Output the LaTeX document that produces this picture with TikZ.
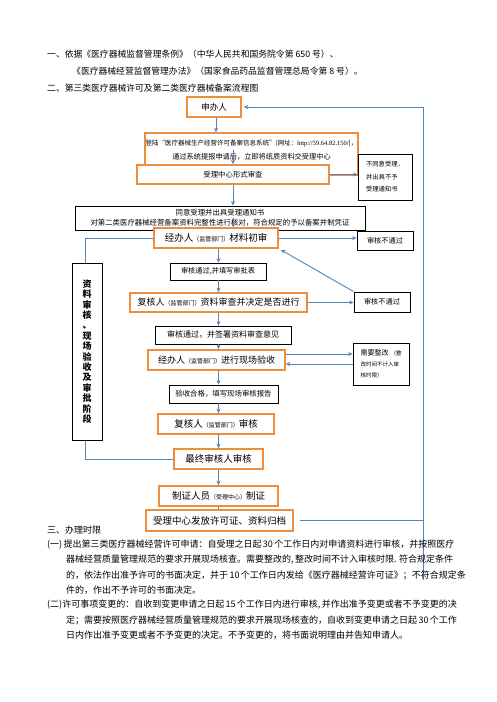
\documentclass[tikz,border=0pt]{standalone}
\usepackage{fontspec}
\setmainfont{Noto Sans CJK SC}
\newfontfamily\latinserif{Liberation Serif}
\usetikzlibrary{arrows.meta}
\XeTeXlinebreaklocale "zh"
\XeTeXlinebreakskip=0pt plus 1pt minus 0.3pt
\definecolor{boxorange}{RGB}{237,141,62}
\definecolor{flowblue}{RGB}{84,130,190}
\newcommand\smtxt[1]{{\fontsize{6}{7}\selectfont #1}}
\newcommand\fs[1]{\fontsize{#1}{#1}\selectfont}
\begin{document}
\begin{tikzpicture}[x=1pt,y=-1pt,
  obox/.style={draw=boxorange, line width=1.6pt, fill=white, inner sep=0pt},
  kbox/.style={draw=black, line width=0.8pt, fill=white, inner sep=0pt},
  flow/.style={draw=flowblue, line width=0.9pt, -{Stealth[length=4.5pt,width=4pt]}},
  plain/.style={draw=flowblue, line width=0.9pt},
  txt/.style={inner sep=0pt, anchor=west},
  body/.style={inner sep=0pt, anchor=west, font=\fs{9}},
]
\useasboundingbox[fill=white] (0,0) rectangle (496,702);

% header
\node[txt, font=\fs{8.8}] (h1) at (47,54) {一、依据《医疗器械监督管理条例》（中华人民共和国务院令第 650 号）、};
\node[txt, font=\fs{8.8}] (h2) at (72,71) {《医疗器械经营监督管理办法》（国家食品药品监督管理总局令第 8 号）。};
\node[txt, font=\fs{8.8}] (h3) at (47,88) {二、第三类医疗器械许可及第二类医疗器械备案流程图};

% boxes
\node[obox, minimum width=54pt, minimum height=20pt, font=\fs{8.5}] (shenban) at (214,107) {申办人};
\node[obox, minimum width=213pt, minimum height=42pt] (denglu) at (251.5,154) {};
\node[inner sep=0pt, align=center] (dengluText) at (251.5,150)
  {\fs{6.5}登陆“医疗器械生产经营许可备案信息系统”(网址：{\latinserif http://59.64.82.150/})，\\[2pt]
   \fs{7.2}通过系统提报申请后，立即将纸质资料交受理中心};
\node[obox, minimum width=192pt, minimum height=19pt, font=\fs{7.4}] (shouli) at (233,174.5) {受理中心形式审查};
\node[kbox, minimum width=54pt, minimum height=46pt, align=left, font=\fontsize{6.3}{12.5}\selectfont] (butongyi) at (385,177)
  {不同意受理，\\\makebox[31pt][s]{并出具不予}\\受理通知书};
\node[kbox, minimum width=290pt, minimum height=24pt, align=center, font=\fontsize{7.4}{10}\selectfont] (tongyi) at (220,218)
  {同意受理并出具受理通知书\\对第二类医疗器械经营备案资料完整性进行核对，符合规定的予以备案并制凭证};
\node[obox, minimum width=124pt, minimum height=20pt, font=\fs{9.5}] (jingban1) at (216,238) {经办人\smtxt{（监管部门）}材料初审};
\node[kbox, minimum width=56pt, minimum height=19pt, font=\fs{7.2}] (butong1) at (385,240.5) {审核不通过};
\node[kbox, minimum width=96pt, minimum height=17pt, font=\fs{7.2}] (shenpi) at (218,271.5) {审核通过,并填写审批表};
\node[obox, minimum width=177pt, minimum height=19pt, font=\fs{9}] (fuhe1) at (218.5,302.5) {复核人\smtxt{（监管部门）}资料审查并决定是否进行};
\node[kbox, minimum width=56pt, minimum height=20pt, font=\fs{7.2}] (butong2) at (382,302) {审核不通过};
\node[kbox, minimum width=136pt, minimum height=18pt, font=\fs{8}] (qianshu) at (223,335) {审核通过，并签署资料审查意见};
\node[obox, minimum width=137pt, minimum height=20pt, font=\fs{9}] (xianchang) at (216.5,360) {经办人\smtxt{（监管部门）}进行现场验收};
\node[kbox, minimum width=56pt, minimum height=42pt, align=left, font=\fontsize{5.5}{11}\selectfont] (zhenggai) at (381,364)
  {{\fs{7}\makebox[32pt][s]{需要整改}}\kern-2pt（整\\改时间不计入审\\核时限）};
\node[kbox, minimum width=109pt, minimum height=18pt, font=\fs{7.4}] (yanshou) at (223.5,394) {验收合格，填写现场审核报告};
\node[obox, minimum width=116pt, minimum height=20pt, font=\fs{9.5}] (fuhe2) at (216,424) {复核人\smtxt{（监管部门）}审核};
\node[obox, minimum width=89pt, minimum height=20pt, font=\fs{9.5}] (zuizhong) at (218.5,459) {最终审核人审核};
\node[obox, minimum width=119pt, minimum height=20pt, font=\fs{9.5}] (zhizheng) at (218.5,496) {制证人员\smtxt{（受理中心）}制证};
\node[obox, minimum width=147pt, minimum height=21pt, font=\fs{9.5}] (fafang) at (219.5,520.5) {受理中心发放许可证、资料归档};

% connectors
\coordinate (rtop) at (423,107);
\coordinate (rbot) at (423,580);
\coordinate (lx) at (85,300);
\draw[flow] (shenban.south -| 216,0) -- (denglu.north -| 216,0);
\draw[flow] (shouli.north |- dengluText.center) -- (shouli.north);
\draw[flow] (shouli.east) -- (shouli.east -| butongyi.west);
\draw[flow] (shouli.south) -- (shouli.south |- tongyi.north);
\draw[flow] (shouli.south |- tongyi.center) -- (shouli.south |- jingban1.north);
\draw[flow] (jingban1.east) -- (jingban1.east -| butong1.west);
\draw[flow] (jingban1.south -| zuizhong.north) -- (shenpi.north -| zuizhong.north);
\draw[flow] (shenpi.south -| zuizhong.north) -- (fuhe1.north -| zuizhong.north);
\draw[flow] (fuhe1.east) -- (fuhe1.east -| butong2.west);
\draw[flow] (butong2.north west) -- ([xshift=2pt,yshift=-1pt]jingban1.south east);
\draw[flow] (fuhe1.south -| zuizhong.north) -- (qianshu.north -| zuizhong.north);
\draw[flow] (qianshu.south -| zuizhong.north) -- (xianchang.north -| zuizhong.north);
\draw[flow] ([yshift=6pt]xianchang.east) -- ([yshift=6pt]xianchang.east -| zhenggai.west);
\draw[flow] ([yshift=-4pt]xianchang.east -| zhenggai.west) -- ([yshift=-4pt]xianchang.east);
\draw[flow] (xianchang.south -| zuizhong.north) -- (yanshou.north -| zuizhong.north);
\draw[flow] (yanshou.south -| zuizhong.north) -- (fuhe2.north -| zuizhong.north);
\draw[flow] (fuhe2.south -| zuizhong.north) -- (zuizhong.north);
\draw[flow] (zuizhong.south) -- (zhizheng.north);
\draw[plain] (zhizheng.south) -- (fafang.north -| zhizheng.south);
\draw[plain] ([xshift=6pt]fafang.east) -- (fafang.east -| rtop);
\draw[flow] (rbot) -- (rtop) -- ([xshift=2pt]shenban.east);
\draw[plain] (jingban1.west) -- (jingban1.west -| lx) -- (zuizhong.west -| lx) -- (zuizhong.west);

% phase box drawn over the left line
\node[kbox, minimum width=30pt, minimum height=177pt, align=center, font=\bfseries\fontsize{9}{10.4}\selectfont] (phase) at (87,351.5)
  {资\\料\\审\\核\\、\\现\\场\\验\\收\\及\\审\\批\\阶\\段};

% bottom text
\node[body] (t0) at (47,530) {三、办理时限};
\node[body] (t1) at (47,545) {\makebox[400pt][s]{(一) 提出第三类医疗器械经营许可申请：自受理之日起 30 个工作日内对申请资料进行审核，并按照医疗}};
\node[body] (t2) at (66,560) {\makebox[381pt][s]{器械经营质量管理规范的要求开展现场核查。需要整改的, 整改时间不计入审核时限. 符合规定条件}};
\node[body] (t3) at (66,575) {\makebox[381pt][s]{的，依法作出准予许可的书面决定，并于 10 个工作日内发给《医疗器械经营许可证》；不符合规定条}};
\node[body] (t4) at (66,590) {件的，作出不予许可的书面决定。};
\node[body] (t5) at (47,605) {\makebox[400pt][s]{(二)许可事项变更的：自收到变更申请之日起 15 个工作日内进行审核, 并作出准予变更或者不予变更的决}};
\node[body] (t6) at (66,620) {\makebox[381pt][s]{定；需要按照医疗器械经营质量管理规范的要求开展现场核查的，自收到变更申请之日起 30 个工作}};
\node[body] (t7) at (66,635) {日内作出准予变更或者不予变更的决定。不予变更的，将书面说明理由并告知申请人。};
\end{tikzpicture}
\end{document}
